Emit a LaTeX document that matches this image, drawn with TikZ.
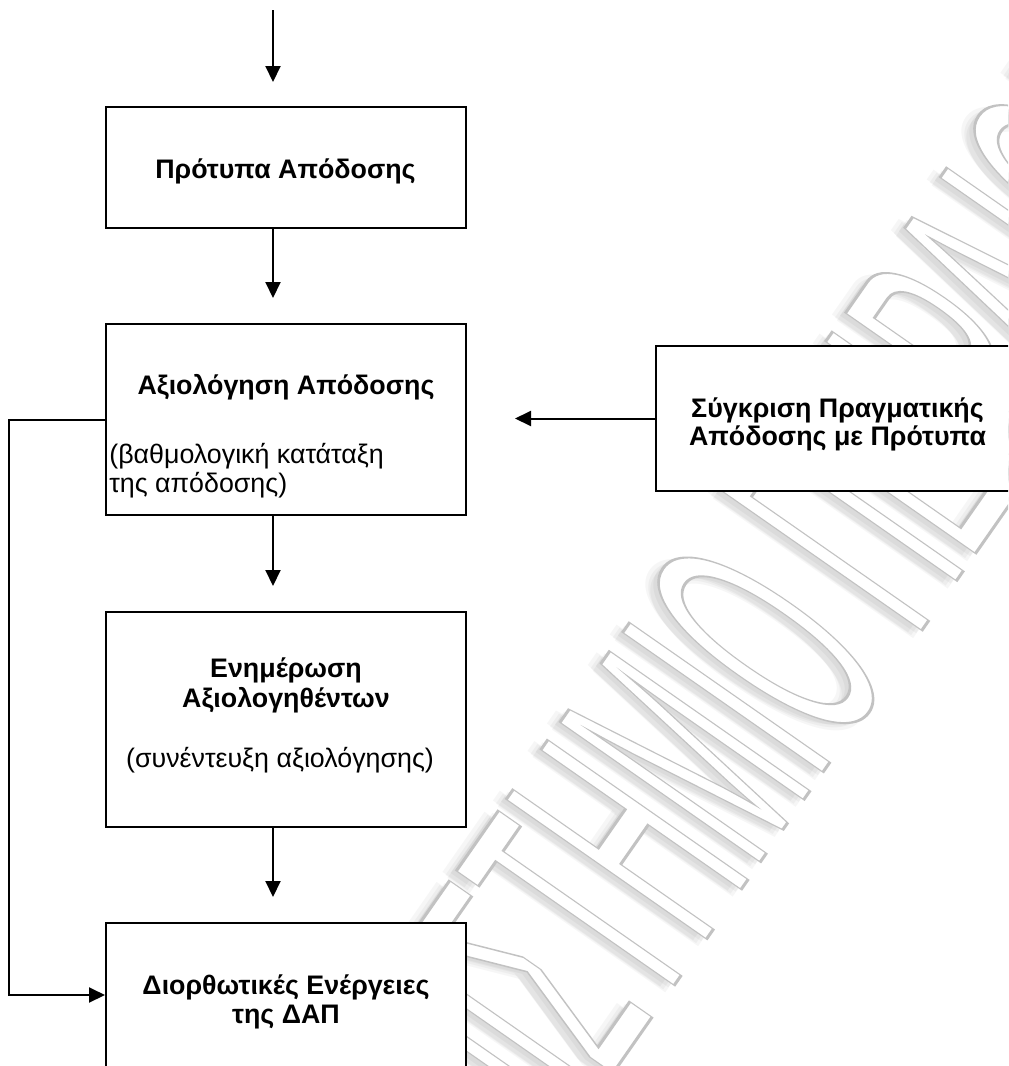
\documentclass[tikz,border=0pt]{standalone}
\usepackage{fontspec}
\setmainfont{Liberation Sans}
\usetikzlibrary{arrows.meta,calc}

% outlined lettering for the background stamp
\newcommand\wmstroke{\special{pdf:literal direct 2 Tr 0.76 G 0.55 w}}
\newcommand\wmplain{\special{pdf:literal direct 0 Tr}}

\tikzset{
  x=0.5pt, y=-0.5pt,
  box/.style={draw=black, line width=1pt, fill=white, rectangle, inner sep=0pt},
  head/.style={font=\fontsize{13.4}{16}\selectfont\bfseries, inner sep=0pt, anchor=base},
  note/.style={font=\fontsize{13.4}{16}\selectfont, inner sep=0pt, anchor=base},
  flow/.style={line width=1pt, -{Triangle[length=8pt,width=7.5pt]}},
  wm/.style={font=\fontsize{65}{65}\selectfont, rotate=55.1, yscale=2.73,
    inner sep=0pt, text=white},
  wmhaze/.style={font=\fontsize{65}{65}\selectfont, rotate=55.1, yscale=2.73,
    inner sep=0pt, text=black, text opacity=0.035},
}

\begin{document}
\begin{tikzpicture}
\useasboundingbox (0,0) rectangle (1008,1066);
\clip (0,0) rectangle (1008,1066);
\fill[white] (0,0) rectangle (1008,1066);

% background stamp: soft haze, then outlined letters
\coordinate (wmP) at (837,752);
\foreach \dx/\dy [count=\i] in {-5/3, -10/5, -13/2, -8/8} {
  \node[wmhaze, anchor=base east] (wmHA\i) at ($(wmP)+(\dx,\dy)$) {ΠΑΝΕΠΙΣΤΗΜΙ};
  \node[wmhaze, anchor=base west] (wmHB\i) at ($(wmP)+(\dx,\dy)$) {Ο ΠΕΙΡΑΙΩΣ};
}
\node[wm, anchor=base east] (wmA) at (wmP) {\wmstroke ΠΑΝΕΠΙΣΤΗΜΙ\wmplain};
\node[wm, anchor=base west] (wmB) at (wmP) {\wmstroke Ο ΠΕΙΡΑΙΩΣ\wmplain};

% boxes
\node[box, minimum width=180pt, minimum height=60.5pt] (b1) at (285.5,167.5) {};
\node[box, minimum width=180pt, minimum height=95.5pt] (b2) at (286,419.5) {};
\node[box, minimum width=180pt, minimum height=107.5pt] (b3) at (286,719.5) {};
\node[box, minimum width=180pt, minimum height=98.5pt] (b4) at (286,1021.5) {};
\node[box, minimum width=181.5pt, minimum height=72.5pt] (bR) at (837.5,418.5) {};

% texts
\node[head] (t1) at (285.5,178) {Πρότυπα Απόδοσης};
\node[head] (t2a) at (286,394) {Αξιολόγηση Απόδοσης};
\node[note, anchor=base west] (t2b) at (109,463) {(βαθμολογική κατάταξη};
\node[note, anchor=base west] (t2c) at (109,492) {της απόδοσης)};
\node[head] (t3a) at (286,677) {Ενημέρωση};
\node[head] (t3b) at (286,707) {Αξιολογηθέντων};
\node[note] (t3c) at (280,767) {(συνέντευξη αξιολόγησης)};
\node[head] (tRa) at (837.5,417) {Σύγκριση Πραγματικής};
\node[head] (tRb) at (837.5,445) {Απόδοσης με Πρότυπα};
\node[head] (t4a) at (286,994) {Διορθωτικές Ενέργειες};
\node[head] (t4b) at (286,1023) {της ΔΑΠ};

% connectors
\coordinate (top) at (273,10);
\coordinate (ax) at (273,0);
\draw[flow] (top) -- ($(ax |- b1.north)+(0,-24)$);
\draw[flow] (ax |- b1.south) -- ($(ax |- b2.north)+(0,-25)$);
\draw[flow] (ax |- b2.south) -- ($(ax |- b3.north)+(0,-25)$);
\draw[flow] (ax |- b3.south) -- ($(ax |- b4.north)+(0,-25)$);
\coordinate (fb) at (9,995);
\draw[flow] (b2.west) -| (fb) -- (fb -| b4.west);
\coordinate (rt) at (515,0);
\draw[flow] (bR.west) -- (rt |- bR.west);
\end{tikzpicture}
\end{document}
